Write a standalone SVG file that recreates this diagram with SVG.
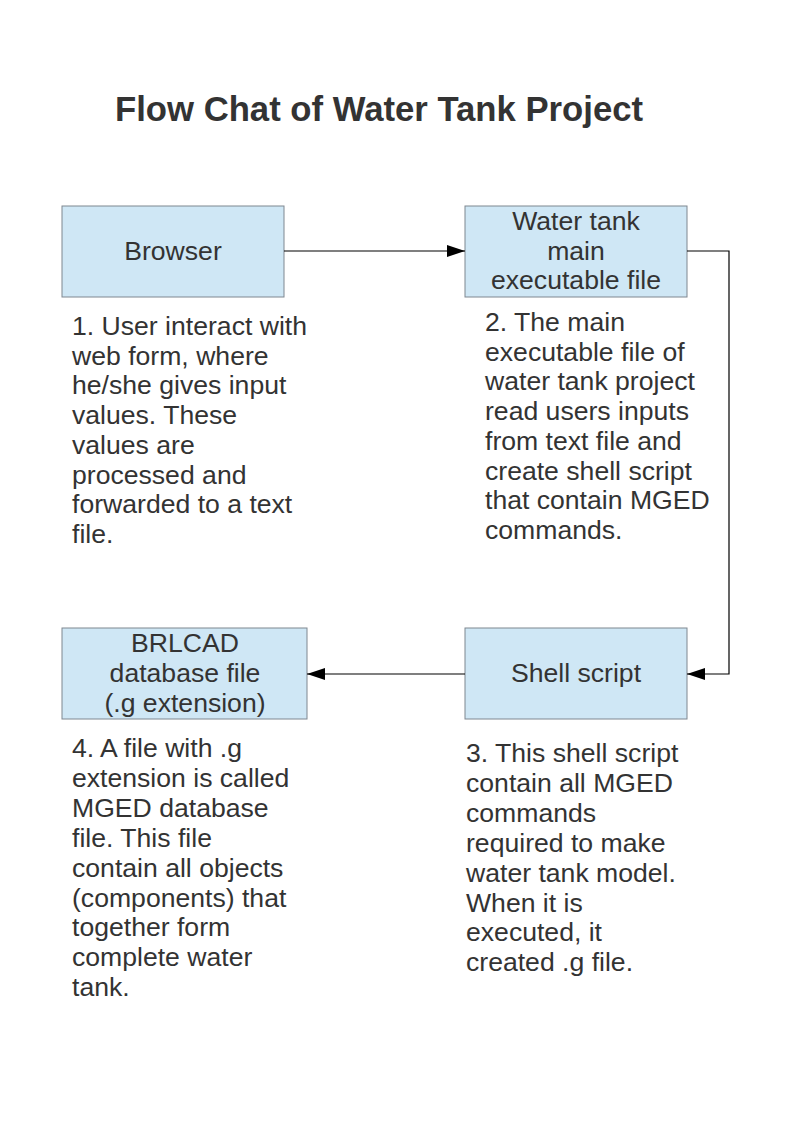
<svg xmlns="http://www.w3.org/2000/svg" width="794" height="1123" viewBox="0 0 794 1123">
<style>
.box{fill:#cfe7f5;stroke:#7f8790;stroke-width:1}
.t{font-family:"Liberation Sans",Arial,sans-serif;font-size:26.6px;fill:#333333}
.c{text-anchor:middle}
.title{font-family:"Liberation Sans",Arial,sans-serif;font-size:34.7px;font-weight:bold;fill:#333333}
.conn{fill:none;stroke:#000;stroke-width:1.2}
</style>
<defs>
<marker id="arr" markerWidth="18" markerHeight="12" refX="18" refY="6" orient="auto" markerUnits="userSpaceOnUse">
<path d="M0,0 L18,6 L0,12 Z" fill="#000"/>
</marker>
</defs>
<rect width="794" height="1123" fill="#fff"/>
<text class="title" x="115" y="121">Flow Chat of Water Tank Project</text>

<g id="browser">
<rect class="box" x="62" y="206" width="222" height="91"/>
<text class="t c" x="173" y="260">Browser</text>
</g>
<g id="main-exe">
<rect class="box" x="465" y="206" width="222" height="91"/>
<text class="t c" x="576" y="230">Water tank</text>
<text class="t c" x="576" y="260">main</text>
<text class="t c" x="576" y="289">executable file</text>
</g>
<g id="shell">
<rect class="box" x="465" y="628" width="222" height="91"/>
<text class="t c" x="576" y="682">Shell script</text>
</g>
<g id="brlcad">
<rect class="box" x="62" y="628" width="245" height="91"/>
<text class="t c" x="185" y="652">BRLCAD</text>
<text class="t c" x="185" y="682">database file</text>
<text class="t c" x="185" y="712">(.g extension)</text>
</g>

<g id="connectors">
<path class="conn" d="M284,251 L465,251" marker-end="url(#arr)"/>
<path class="conn" d="M687,251 L729,251 L729,674 L687,674" marker-end="url(#arr)"/>
<path class="conn" d="M465,674 L307,674" marker-end="url(#arr)"/>
</g>

<g id="note1">
<text class="t" x="72" y="335">1. User interact with</text>
<text class="t" x="72" y="364.7">web form, where</text>
<text class="t" x="72" y="394.4">he/she gives input</text>
<text class="t" x="72" y="424.1">values. These</text>
<text class="t" x="72" y="453.8">values are</text>
<text class="t" x="72" y="483.5">processed and</text>
<text class="t" x="72" y="513.2">forwarded to a text</text>
<text class="t" x="72" y="542.9">file.</text>
</g>
<g id="note2">
<text class="t" x="485" y="331">2. The main</text>
<text class="t" x="485" y="360.7">executable file of</text>
<text class="t" x="485" y="390.4">water tank project</text>
<text class="t" x="485" y="420.1">read users inputs</text>
<text class="t" x="485" y="449.8">from text file and</text>
<text class="t" x="485" y="479.5">create shell script</text>
<text class="t" x="485" y="509.2">that contain MGED</text>
<text class="t" x="485" y="538.9">commands.</text>
</g>
<g id="note3">
<text class="t" x="466" y="762">3. This shell script</text>
<text class="t" x="466" y="791.9">contain all MGED</text>
<text class="t" x="466" y="821.8">commands</text>
<text class="t" x="466" y="851.7">required to make</text>
<text class="t" x="466" y="881.6">water tank model.</text>
<text class="t" x="466" y="911.5">When it is</text>
<text class="t" x="466" y="941.4">executed, it</text>
<text class="t" x="466" y="971.3">created .g file.</text>
</g>
<g id="note4">
<text class="t" x="72" y="757">4. A file with .g</text>
<text class="t" x="72" y="786.9">extension is called</text>
<text class="t" x="72" y="816.8">MGED database</text>
<text class="t" x="72" y="846.7">file. This file</text>
<text class="t" x="72" y="876.6">contain all objects</text>
<text class="t" x="72" y="906.5">(components) that</text>
<text class="t" x="72" y="936.4">together form</text>
<text class="t" x="72" y="966.3">complete water</text>
<text class="t" x="72" y="996.2">tank.</text>
</g>
</svg>
